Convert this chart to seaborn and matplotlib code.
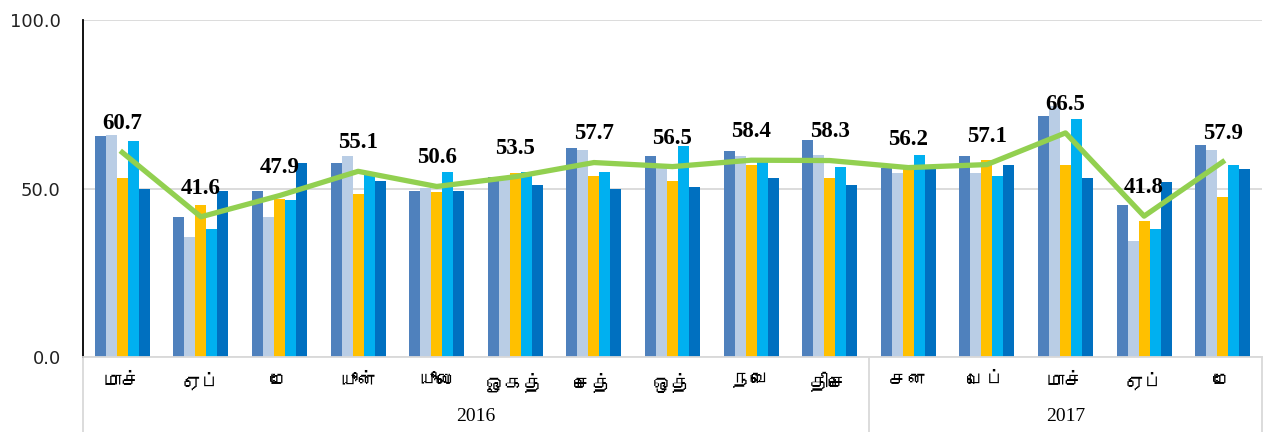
import numpy as np
import pandas as pd
import seaborn as sns
import matplotlib
matplotlib.use("Agg")
import matplotlib.pyplot as plt
from matplotlib import font_manager, transforms
from matplotlib.ft2font import FT2Font

# month labels (Tamil) and years
months = ["மாச்", "ஏப்", "மே", "யூன்", "யூலை", "ஓகத்", "செத்", "ஒத்", "நவெ", "திசெ",
          "சன", "பெப்", "மாச்", "ஏப்", "மே"]
year_labels = ["2016", "2017"]
year_spans = [10, 5]

# five bar series
s1 = [65.6, 41.5, 49.4, 57.5, 49.4, 53.4, 62.1, 59.5, 61.0, 64.5, 56.1, 59.5, 71.5, 45.0, 63.0]
s2 = [66.0, 35.5, 41.4, 59.5, 50.2, 53.7, 61.5, 57.0, 59.5, 60.0, 54.5, 54.5, 74.4, 34.5, 61.5]
s3 = [53.0, 45.0, 47.0, 48.5, 49.0, 54.5, 53.6, 52.1, 57.1, 53.0, 56.0, 58.5, 57.1, 40.5, 47.4]
s4 = [64.0, 37.9, 46.5, 54.2, 55.0, 55.0, 55.0, 62.5, 58.1, 56.5, 60.0, 53.6, 70.6, 37.9, 57.1]
s5 = [50.0, 49.4, 57.5, 52.1, 49.4, 51.0, 50.0, 50.5, 53.0, 51.0, 56.1, 57.1, 53.0, 52.0, 55.9]
# green line (labelled)
avg = [60.7, 41.6, 47.9, 55.1, 50.6, 53.5, 57.7, 56.5, 58.4, 58.3, 56.2, 57.1, 66.5, 41.8, 57.9]

series_names = ["s1", "s2", "s3", "s4", "s5"]
colors = ["#4F81BD", "#B9CDE5", "#FFC000", "#00B0F0", "#0070C0"]


def find_tamil_font():
    for f in font_manager.fontManager.ttflist:
        try:
            if 0x0BAE in FT2Font(f.fname).get_charmap():
                return f.name
        except Exception:
            pass
    return "DejaVu Sans"


tamil = find_tamil_font()

years = []
for y, n in zip(year_labels, year_spans):
    years += [y] * n
keys = [f"{y} {m} {i}" for i, (y, m) in enumerate(zip(years, months))]

rows = []
for name, vals in zip(series_names, [s1, s2, s3, s4, s5]):
    for k, v in zip(keys, vals):
        rows.append({"period": k, "series": name, "value": v})
df = pd.DataFrame(rows)

fig = plt.figure(figsize=(12.75, 4.32), dpi=100)
ax = fig.add_axes([83 / 1275, 75 / 432, 1179 / 1275, 337 / 432])

sns.barplot(data=df, x="period", y="value", hue="series", order=keys,
            hue_order=series_names, palette=colors, width=0.7, gap=0,
            saturation=1, legend=False, ax=ax, zorder=2)

xs = np.arange(len(avg))
sns.lineplot(x=xs, y=avg, color="#92D050", linewidth=3.8, ax=ax, zorder=3)

for i, v in enumerate(avg):
    ax.annotate(f"{v:.1f}", (i, v), xytext=(0, 13), textcoords="offset points",
                ha="center", va="bottom", fontsize=16.5, fontweight="bold",
                family="Liberation Serif", color="black", zorder=4)

ax.set_ylim(0, 100)
ax.set_xlim(-0.5, len(avg) - 0.5)
ax.set_yticks([0, 50, 100])
ax.set_yticklabels([f"{t:.1f}" for t in [0, 50, 100]], fontsize=13, color="#222222")
ax.set_xticks(xs)
ax.set_xticklabels(months, fontsize=14, family=[tamil, "DejaVu Sans"])
ax.tick_params(axis="both", length=0)
ax.tick_params(axis="y", pad=16)
ax.tick_params(axis="x", pad=11)
ax.set_xlabel("")
ax.set_ylabel("")

ax.yaxis.grid(True, color="#D9D9D9", linewidth=1.3, zorder=0)
ax.set_axisbelow(True)
for side in ["top", "right"]:
    ax.spines[side].set_visible(False)
ax.spines["left"].set_color("black")
ax.spines["left"].set_linewidth(1.3)
ax.spines["bottom"].set_color("#D9D9D9")
ax.spines["bottom"].set_linewidth(1.3)

# year separators and labels below the axis
trans = transforms.blended_transform_factory(ax.transData, ax.transAxes)
bounds = [-0.5]
for n in year_spans:
    bounds.append(bounds[-1] + n)
for b in bounds:
    ax.plot([b, b], [0, -0.23], transform=trans, color="#D9D9D9",
            linewidth=1.3, clip_on=False)
for y, a, b in zip(year_labels, bounds[:-1], bounds[1:]):
    ax.text((a + b) / 2, -0.178, y, transform=trans, ha="center", va="center",
            fontsize=14, family="Liberation Serif")

fig.savefig("out.png", dpi=100)
